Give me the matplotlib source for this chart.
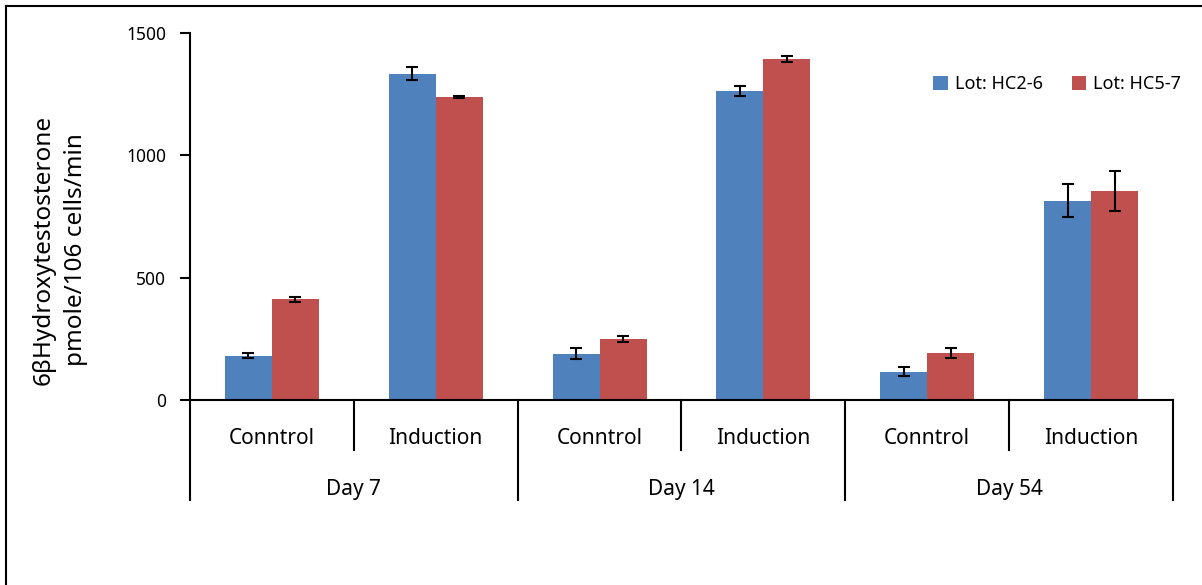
import matplotlib.pyplot as plt
from matplotlib.lines import Line2D
import numpy as np

plt.rcParams['font.family'] = ['Noto Sans', 'DejaVu Sans']

# data
days = ["Day 7", "Day 14", "Day 54"]
conditions = ["Conntrol", "Induction"]
series_names = ["Lot: HC2-6", "Lot: HC5-7"]
hc26 = [181, 1333, 189, 1263, 116, 815]
hc26_err = [11, 27, 23, 20, 18, 69]
hc57 = [412, 1238, 248, 1394, 193, 854]
hc57_err = [10, 4, 12, 14, 21, 81]
colors = ["#4F81BD", "#C0504D"]

fig = plt.figure(figsize=(12.02, 5.85), dpi=100)
ax = fig.add_axes([190 / 1202, 1 - 400 / 585, 983 / 1202, 367 / 585])

x = np.arange(len(hc26))
w = 0.287
err_kw = dict(elinewidth=1.5, capthick=1.5, ecolor="black")
ax.bar(x - w / 2, hc26, w, yerr=hc26_err, capsize=4.5, color=colors[0],
       label=series_names[0], error_kw=err_kw)
ax.bar(x + w / 2, hc57, w, yerr=hc57_err, capsize=4.5, color=colors[1],
       label=series_names[1], error_kw=err_kw)

ax.set_xlim(-0.5, len(x) - 0.5)
ax.set_ylim(0, 1500)
ax.set_yticks([0, 500, 1000, 1500])
ax.tick_params(axis="y", direction="out", length=7, width=1.5, pad=10, labelsize=12.5)
ax.set_xticks([])
for s in ["top", "right"]:
    ax.spines[s].set_visible(False)
ax.spines["left"].set_linewidth(1.5)
ax.spines["bottom"].set_linewidth(1.5)

# two-level category axis
trans = ax.get_xaxis_transform()
for i in range(len(x)):
    ax.text(i, -0.105, conditions[i % 2], transform=trans, ha="center", va="center",
            fontsize=15)
for d, day in enumerate(days):
    ax.text(2 * d + 0.5, -0.243, day, transform=trans, ha="center", va="center",
            fontsize=15)
for b in np.arange(-0.5, len(x), 1.0):
    depth = -0.272 if int(b + 0.5) % 2 == 0 else -0.136
    ax.plot([b, b], [0, depth], transform=trans, color="black", lw=1.5, clip_on=False)

ax.set_ylabel("6βHydroxytestosterone\npmole/106 cells/min", fontsize=17.5,
              linespacing=1.45)
ax.yaxis.set_label_coords(-0.104, 0.41)

ax.legend(loc="upper right", bbox_to_anchor=(1.025, 0.93), ncol=2, frameon=False,
          fontsize=13, handlelength=0.8, handleheight=0.8, handletextpad=0.4,
          columnspacing=1.6)

# border of the chart area
fig.add_artist(Line2D([6 / 1202, 6 / 1202], [0, 1 - 6 / 585], color="black", lw=1.5))
fig.add_artist(Line2D([6 / 1202, 1], [1 - 6 / 585, 1 - 6 / 585], color="black", lw=1.5))

plt.savefig("out.png", dpi=100)
